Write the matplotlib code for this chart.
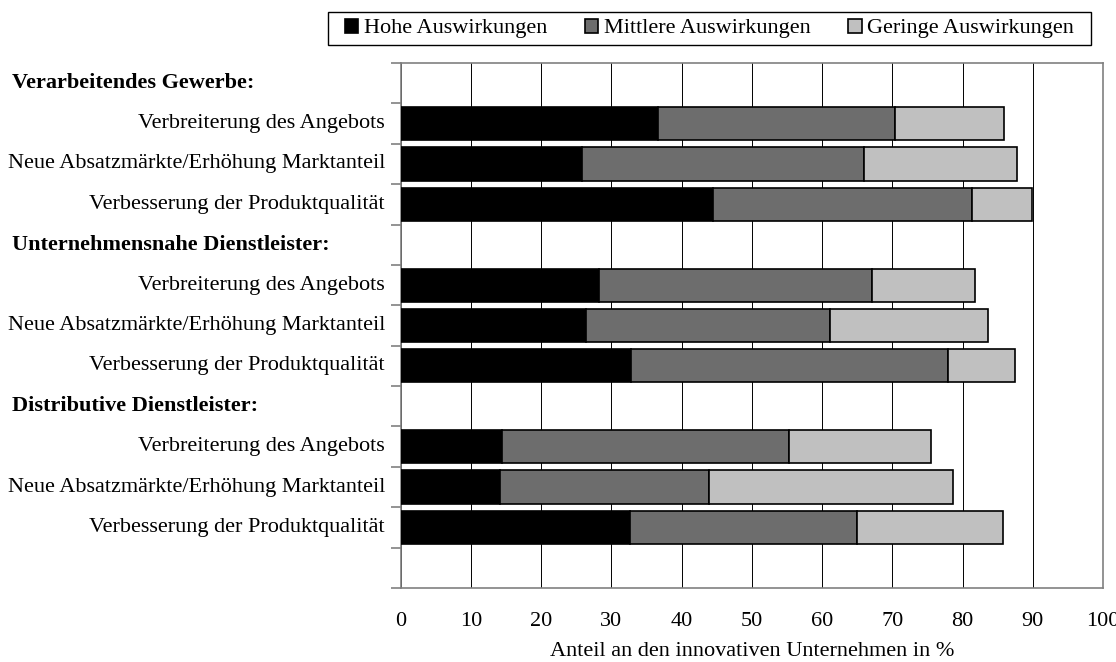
import numpy as np
import matplotlib
matplotlib.use("Agg")
import matplotlib.pyplot as plt
from matplotlib.patches import Rectangle
from matplotlib.transforms import blended_transform_factory

plt.rcParams['font.family'] = ['Liberation Serif', 'DejaVu Serif']

groups = ["Verarbeitendes Gewerbe:", "Unternehmensnahe Dienstleister:", "Distributive Dienstleister:"]
items = ["Verbreiterung des Angebots", "Neue Absatzmärkte/Erhöhung Marktanteil", "Verbesserung der Produktqualität"]

# shares per group, order as in items
hohe = [36.6, 25.8, 44.5, 28.3, 26.4, 32.8, 14.5, 14.1, 32.6]
mittlere = [33.8, 40.2, 36.9, 38.8, 34.7, 45.1, 40.8, 29.8, 32.4]
geringe = [15.5, 21.7, 8.5, 14.7, 22.6, 9.6, 20.2, 34.7, 20.8]

series = ["Hohe Auswirkungen", "Mittlere Auswirkungen", "Geringe Auswirkungen"]
colors = ["#000000", "#6d6d6d", "#c0c0c0"]

fs = 16

fig = plt.figure(figsize=(11.16, 6.62), dpi=100)
ax = fig.add_axes([400.5 / 1116, 1 - 588 / 662, 702.5 / 1116, 525 / 662])

# row positions: one header row per group, then three bars
rows = []
header_rows = []
r = 0
for g in range(len(groups)):
    header_rows.append(r)
    r += 1
    for i in range(len(items)):
        rows.append(r)
        r += 1
nrows = r + 1
rows = np.array(rows)

left = np.zeros(len(rows))
for vals, c, lab in zip([hohe, mittlere, geringe], colors, series):
    ax.barh(rows, vals, left=left, height=0.82, color=c, edgecolor="black",
            linewidth=1.2, label=lab, zorder=3)
    left = left + np.array(vals)

ax.set_xlim(0, 100)
ax.set_ylim(nrows - 0.5, -0.5)
ax.set_xticks(np.arange(0, 101, 10))
ax.tick_params(axis="x", length=0, labelsize=fs, pad=17.5)
ax.set_yticks(np.arange(-0.5, nrows, 1))
ax.set_yticklabels([])
ax.tick_params(axis="y", length=7, width=1.2, color="#808080", direction="out")
ax.xaxis.grid(True, color="black", linewidth=0.7, zorder=0)
for s in ax.spines.values():
    s.set_color("#808080")
    s.set_linewidth(1.2)

trans = blended_transform_factory(fig.transFigure, ax.transData)
for g, hr in zip(groups, header_rows):
    ax.text(12 / 1116, hr, g, transform=trans, ha="left", va="center",
            fontsize=fs, fontweight="bold")
for k, rr in enumerate(rows):
    ax.text(385 / 1116, rr, items[k % 3], transform=trans, ha="right",
            va="center", fontsize=fs)

ax.set_xlabel("Anteil an den innovativen Unternehmen in %", fontsize=fs, labelpad=8)

# legend entries without frame, box drawn wider by hand like the original
leg = ax.legend(loc="center", bbox_to_anchor=(709.5 / 1116, 1 - 28.5 / 662),
                bbox_transform=fig.transFigure, ncol=3, fontsize=fs, frameon=False,
                handlelength=0.6, handleheight=0.6, handletextpad=0.25,
                columnspacing=1.7, borderpad=0.3)
fig.canvas.draw()
bb = leg.get_window_extent(fig.canvas.get_renderer())
bb = bb.transformed(fig.transFigure.inverted())
padx = 10 / 1116
fig.patches.append(Rectangle((bb.x0 - padx, bb.y0), bb.width + 2 * padx, bb.height,
                             transform=fig.transFigure, fill=False,
                             edgecolor="black", linewidth=1.0))

fig.savefig("out.png", dpi=100)
